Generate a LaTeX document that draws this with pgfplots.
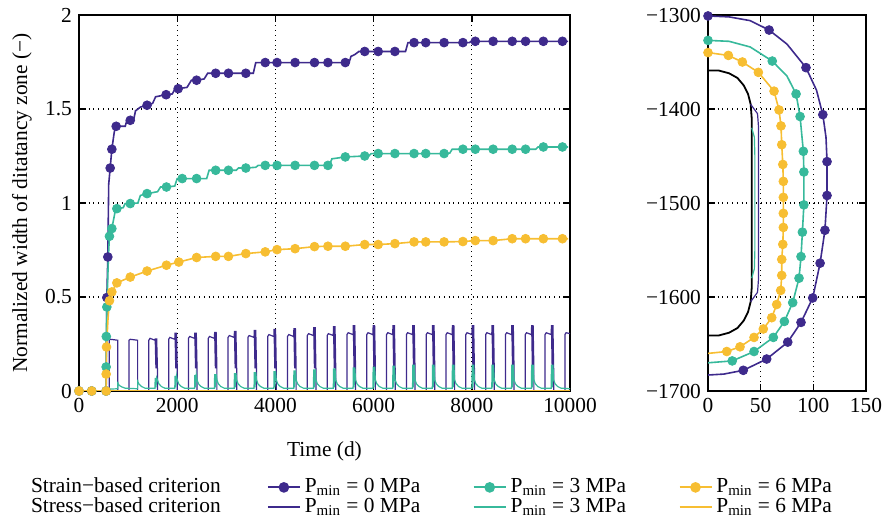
\documentclass[border=0pt]{standalone}
\usepackage{fontspec}
\setmainfont{Liberation Serif}
\usepackage{pgfplots}
\pgfplotsset{compat=1.18}

\definecolor{cP}{RGB}{62,42,140}
\definecolor{cT}{RGB}{55,185,155}
\definecolor{cY}{RGB}{247,190,50}

\newcommand{\gpfont}{\fontsize{10.7}{12}\selectfont}

\pgfplotsset{
  gpframe/.style={
    scale only axis, height=188pt,
    tick align=inside, major tick length=3.5pt,
    grid=major,
    major grid style={black, dotted, line width=0.6pt},
    axis line style={line width=0.7pt},
    every tick/.style={black, line width=0.7pt},
    tick label style={font=\gpfont},
    label style={font=\gpfont},
    /pgf/number format/assume math mode=true,
    /pgf/number format/1000 sep={},
    scaled ticks=false,
  },
  sline/.style={line width=0.8pt, draw=#1},
  smark/.style={only marks, mark=*, mark size=2.2pt, draw=#1, fill=#1,
    mark options={solid, fill=#1, draw=#1}},
  stress/.style={line width=0.6pt, draw=#1},
}

\begin{document}
\begin{tikzpicture}
\path[use as bounding box] (-39.5pt,-66pt) rectangle (406.5pt,195.5pt);

% ---------------- width of the dilatancy zone over time ----------------
\begin{axis}[gpframe,
  at={(0pt,0pt)}, anchor=south west, width=245.5pt,
  xmin=0, xmax=10000, ymin=0, ymax=2,
  xtick={0,2000,4000,6000,8000,10000},
  ytick={0,0.5,1,1.5,2},
  xlabel={Time (d)},
  ylabel={Normalized width of ditatancy zone (−)},
  xlabel style={at={(axis description cs:0.5,-0.1596)}, anchor=center},
  ylabel style={at={(axis description cs:-0.1161,0.5)}, anchor=center},
  legend columns=4,
  legend cell align=left,
  legend style={at={(axis description cs:-0.1067,-0.2287)}, anchor=north west,
    draw=none, fill=none, inner xsep=0pt, inner ysep=0pt, column sep=0pt,
    font=\gpfont,
    nodes={inner xsep=2pt, inner ysep=0pt, text height=7.5pt, text depth=2.5pt, anchor=west}},
  legend image code/.code={\draw[mark repeat=2,mark phase=2,#1]
    plot coordinates {(0pt,0pt) (8pt,0pt) (16pt,0pt)};},
]
% stress-based criterion, Pmin = 0 MPa
\addplot[stress=cP, forget plot] coordinates {
(0,0) (615,0) (615,0.27) (640,0.275) (790,0.27) (790,0)
(1019,0) (1019,0.27) (1044,0.275) (1194,0.27) (1194,0)
(1422,0) (1422,0.27) (1447,0.28) (1547,0.27) (1552,0.28) (1567,0.12) (1582,0.28) (1597,0.12) (1597,0)
(1826,0) (1826,0.275) (1851,0.285) (1951,0.275) (1956,0.31) (1971,0.12) (1986,0.31) (2001,0.12) (2001,0)
(2229,0) (2229,0.28) (2254,0.29) (2354,0.28) (2359,0.31) (2374,0.12) (2389,0.31) (2404,0.12) (2404,0)
(2633,0) (2633,0.28) (2658,0.29) (2758,0.28) (2763,0.315) (2778,0.12) (2793,0.315) (2808,0.12) (2808,0)
(3036,0) (3036,0.285) (3061,0.295) (3161,0.285) (3166,0.32) (3181,0.12) (3196,0.32) (3211,0.12) (3211,0)
(3440,0) (3440,0.285) (3465,0.295) (3565,0.285) (3570,0.325) (3585,0.12) (3600,0.325) (3615,0.12) (3615,0)
(3843,0) (3843,0.29) (3868,0.30) (3968,0.29) (3973,0.33) (3988,0.12) (4003,0.33) (4018,0.12) (4018,0)
(4247,0) (4247,0.29) (4272,0.30) (4372,0.29) (4377,0.335) (4392,0.12) (4407,0.335) (4422,0.12) (4422,0)
(4650,0) (4650,0.295) (4675,0.305) (4775,0.295) (4780,0.34) (4795,0.12) (4810,0.34) (4825,0.12) (4825,0)
(5054,0) (5054,0.295) (5079,0.305) (5179,0.295) (5184,0.345) (5199,0.12) (5214,0.345) (5229,0.12) (5229,0)
(5457,0) (5457,0.30) (5482,0.31) (5582,0.30) (5587,0.35) (5602,0.12) (5617,0.35) (5632,0.12) (5632,0)
(5861,0) (5861,0.30) (5886,0.31) (5986,0.30) (5991,0.35) (6006,0.12) (6021,0.35) (6036,0.12) (6036,0)
(6264,0) (6264,0.30) (6289,0.31) (6389,0.30) (6394,0.35) (6409,0.12) (6424,0.35) (6439,0.12) (6439,0)
(6668,0) (6668,0.30) (6693,0.31) (6793,0.30) (6798,0.35) (6813,0.12) (6828,0.35) (6843,0.12) (6843,0)
(7071,0) (7071,0.30) (7096,0.31) (7196,0.30) (7201,0.35) (7216,0.12) (7231,0.35) (7246,0.12) (7246,0)
(7475,0) (7475,0.30) (7500,0.31) (7600,0.30) (7605,0.35) (7620,0.12) (7635,0.35) (7650,0.12) (7650,0)
(7878,0) (7878,0.30) (7903,0.31) (8003,0.30) (8008,0.35) (8023,0.12) (8038,0.35) (8053,0.12) (8053,0)
(8282,0) (8282,0.30) (8307,0.31) (8407,0.30) (8412,0.35) (8427,0.12) (8442,0.35) (8457,0.12) (8457,0)
(8685,0) (8685,0.30) (8710,0.31) (8810,0.30) (8815,0.35) (8830,0.12) (8845,0.35) (8860,0.12) (8860,0)
(9089,0) (9089,0.30) (9114,0.31) (9214,0.30) (9219,0.35) (9234,0.12) (9249,0.35) (9264,0.12) (9264,0)
(9492,0) (9492,0.30) (9517,0.31) (9617,0.30) (9622,0.35) (9637,0.12) (9652,0.35) (9667,0.12) (9667,0)
(9896,0) (9896,0.30) (9921,0.31) (10000,0.305)
};
% stress-based criterion, Pmin = 3 MPa
\addplot[stress=cT, forget plot] coordinates {
(0,0) (615,0) (615,0.01) (790,0.012) (790,0.05) (794,0.04) (820,0.03) (870,0.022) (940,0.015)
(1194,0.012) (1194,0.06) (1198,0.05) (1224,0.036) (1274,0.024) (1344,0.015)
(1547,0.015) (1552,0.07) (1567,0.02) (1582,0.07) (1597,0.06) (1627,0.038) (1677,0.024) (1747,0.015)
(1951,0.015) (1956,0.08) (1971,0.02) (1986,0.08) (2001,0.06) (2031,0.038) (2081,0.024) (2151,0.015)
(2354,0.015) (2359,0.085) (2374,0.02) (2389,0.085) (2404,0.06) (2434,0.038) (2484,0.024) (2554,0.015)
(2758,0.015) (2763,0.09) (2778,0.02) (2793,0.09) (2808,0.06) (2838,0.038) (2888,0.024) (2958,0.015)
(3161,0.015) (3166,0.095) (3181,0.02) (3196,0.095) (3211,0.06) (3241,0.038) (3291,0.024) (3361,0.015)
(3565,0.015) (3570,0.10) (3585,0.02) (3600,0.10) (3615,0.06) (3645,0.038) (3695,0.024) (3765,0.015)
(3968,0.015) (3973,0.105) (3988,0.02) (4003,0.105) (4018,0.06) (4048,0.038) (4098,0.024) (4168,0.015)
(4372,0.015) (4377,0.11) (4392,0.02) (4407,0.11) (4422,0.06) (4452,0.038) (4502,0.024) (4572,0.015)
(4775,0.015) (4780,0.115) (4795,0.02) (4810,0.115) (4825,0.06) (4855,0.038) (4905,0.024) (4975,0.015)
(5179,0.015) (5184,0.12) (5199,0.02) (5214,0.12) (5229,0.06) (5259,0.038) (5309,0.024) (5379,0.015)
(5582,0.015) (5587,0.125) (5602,0.02) (5617,0.125) (5632,0.06) (5662,0.038) (5712,0.024) (5782,0.015)
(5986,0.015) (5991,0.13) (6006,0.02) (6021,0.13) (6036,0.06) (6066,0.038) (6116,0.024) (6186,0.015)
(6389,0.015) (6394,0.135) (6409,0.02) (6424,0.135) (6439,0.06) (6469,0.038) (6519,0.024) (6589,0.015)
(6793,0.015) (6798,0.14) (6813,0.02) (6828,0.14) (6843,0.06) (6873,0.038) (6923,0.024) (6993,0.015)
(7196,0.015) (7201,0.14) (7216,0.02) (7231,0.14) (7246,0.06) (7276,0.038) (7326,0.024) (7396,0.015)
(7600,0.015) (7605,0.14) (7620,0.02) (7635,0.14) (7650,0.06) (7680,0.038) (7730,0.024) (7800,0.015)
(8003,0.015) (8008,0.14) (8023,0.02) (8038,0.14) (8053,0.06) (8083,0.038) (8133,0.024) (8203,0.015)
(8407,0.015) (8412,0.14) (8427,0.02) (8442,0.14) (8457,0.06) (8487,0.038) (8537,0.024) (8607,0.015)
(8810,0.015) (8815,0.14) (8830,0.02) (8845,0.14) (8860,0.06) (8890,0.038) (8940,0.024) (9010,0.015)
(9214,0.015) (9219,0.14) (9234,0.02) (9249,0.14) (9264,0.06) (9294,0.038) (9344,0.024) (9414,0.015)
(9617,0.015) (9622,0.14) (9637,0.02) (9652,0.14) (9667,0.06) (9697,0.038) (9747,0.024) (9817,0.015)
(10000,0.012)
};
% stress-based criterion, Pmin = 6 MPa
\addplot[stress=cY, forget plot] coordinates {(0,0) (10000,0)};

% strain-based criterion, Pmin = 0 MPa
\addplot[sline=cP, forget plot] coordinates {
(0,0) (553,0) (567,0.497) (587,0.713) (605,1.1) (635,1.186) (669,1.286) (720,1.38)
(757,1.408) (942,1.408) (975,1.44) (1044,1.44) (1120,1.45) (1150,1.49) (1250,1.51)
(1386,1.52) (1500,1.53) (1560,1.565) (1774,1.576) (1900,1.58) (1950,1.605) (2020,1.608)
(2200,1.615) (2290,1.653) (2395,1.653) (2550,1.66) (2620,1.69) (3550,1.69) (3600,1.747)
(5500,1.747) (5540,1.78) (5620,1.79) (5700,1.806) (6650,1.806) (6700,1.853) (7950,1.853)
(7990,1.86) (9960,1.86)
};
\addplot[smark=cP, forget plot] coordinates {
(0,0) (259,0) (553,0) (567,0.497) (587,0.713) (635,1.186) (669,1.286) (757,1.408)
(1044,1.44) (1386,1.52) (1774,1.576) (2020,1.608) (2395,1.653) (2784,1.69) (3044,1.69)
(3398,1.69) (3793,1.747) (4033,1.747) (4401,1.747) (4796,1.747) (5070,1.747) (5424,1.747)
(5819,1.806) (6093,1.806) (6434,1.806) (6824,1.853) (7062,1.853) (7436,1.853) (7819,1.853)
(8071,1.86) (8434,1.86) (8823,1.86) (9095,1.86) (9457,1.86) (9846,1.86)
};
% strain-based criterion, Pmin = 3 MPa
\addplot[sline=cT, forget plot] coordinates {
(0,0) (553,0) (553,0.128) (556,0.29) (567,0.447) (600,0.72) (620,0.823) (669,0.864)
(740,0.96) (771,0.97) (900,0.975) (940,0.997) (1044,0.997) (1200,1.0) (1250,1.04)
(1386,1.05) (1600,1.06) (1660,1.085) (1781,1.085) (1950,1.09) (2000,1.13) (2600,1.13)
(2650,1.174) (3200,1.174) (3250,1.186) (3398,1.186) (3600,1.19) (3650,1.2) (5100,1.2)
(5150,1.235) (5424,1.245) (5819,1.25) (5900,1.25) (5950,1.263) (7436,1.263) (7550,1.265)
(7600,1.286) (9300,1.286) (9350,1.298) (9960,1.298)
};
\addplot[smark=cT, forget plot] coordinates {
(0,0) (259,0) (553,0) (553,0.128) (556,0.29) (567,0.447) (620,0.823) (669,0.864)
(771,0.97) (1044,0.997) (1386,1.05) (1781,1.085) (2102,1.13) (2395,1.13) (2784,1.174)
(3044,1.174) (3398,1.186) (3793,1.2) (4033,1.2) (4401,1.2) (4796,1.2) (5070,1.2)
(5424,1.245) (5819,1.25) (6093,1.263) (6434,1.263) (6824,1.263) (7062,1.263) (7436,1.263)
(7819,1.286) (8071,1.286) (8434,1.286) (8823,1.286) (9095,1.286) (9457,1.298) (9846,1.298)
};
% strain-based criterion, Pmin = 6 MPa
\addplot[sline=cY, forget plot] coordinates {
(0,0) (553,0) (553,0.09) (560,0.234) (590,0.38) (620,0.48) (669,0.527) (771,0.575)
(1044,0.606) (1386,0.638) (1781,0.669) (2032,0.686) (2395,0.71) (2784,0.716) (3044,0.716)
(3398,0.731) (3793,0.74) (4033,0.752) (4401,0.757) (4796,0.768) (5070,0.77) (5424,0.77)
(5819,0.779) (6093,0.779) (6434,0.784) (6824,0.793) (7062,0.793) (7436,0.793) (7819,0.795)
(8071,0.80) (8434,0.80) (8823,0.81) (9095,0.81) (9457,0.81) (9846,0.81) (9960,0.81)
};
\addplot[smark=cY, forget plot] coordinates {
(0,0) (259,0) (553,0) (553,0.09) (560,0.234) (620,0.48) (669,0.527) (771,0.575)
(1044,0.606) (1386,0.638) (1781,0.669) (2032,0.686) (2395,0.71) (2784,0.716) (3044,0.716)
(3398,0.731) (3793,0.74) (4033,0.752) (4401,0.757) (4796,0.768) (5070,0.77) (5424,0.77)
(5819,0.779) (6093,0.779) (6434,0.784) (6824,0.793) (7062,0.793) (7436,0.793) (7819,0.795)
(8071,0.80) (8434,0.80) (8823,0.81) (9095,0.81) (9457,0.81) (9846,0.81)
};

% legend: one row per criterion
\addlegendimage{empty legend}
\addlegendentry{\makebox[116pt][l]{Strain−based criterion}}
\addlegendimage{line width=0.9pt, draw=cP, mark=*, mark size=2.2pt, mark options={solid, fill=cP, draw=cP}}
\addlegendentry{\makebox[82pt][l]{P\textsubscript{min} = 0 MPa}}
\addlegendimage{line width=0.9pt, draw=cT, mark=*, mark size=2.2pt, mark options={solid, fill=cT, draw=cT}}
\addlegendentry{\makebox[82pt][l]{P\textsubscript{min} = 3 MPa}}
\addlegendimage{line width=0.9pt, draw=cY, mark=*, mark size=2.2pt, mark options={solid, fill=cY, draw=cY}}
\addlegendentry{\makebox[82pt][l]{P\textsubscript{min} = 6 MPa}}
\addlegendimage{empty legend}
\addlegendentry{\makebox[116pt][l]{Stress−based criterion}}
\addlegendimage{line width=0.9pt, draw=cP}
\addlegendentry{\makebox[82pt][l]{P\textsubscript{min} = 0 MPa}}
\addlegendimage{line width=0.9pt, draw=cT}
\addlegendentry{\makebox[82pt][l]{P\textsubscript{min} = 3 MPa}}
\addlegendimage{line width=0.9pt, draw=cY}
\addlegendentry{\makebox[82pt][l]{P\textsubscript{min} = 6 MPa}}
\end{axis}

% ---------------- extent of the dilatancy zone around the cavern ----------------
\begin{axis}[gpframe,
  at={(314.5pt,0pt)}, anchor=south west, width=79pt,
  xmin=0, xmax=150, ymin=-1700, ymax=-1300,
  xtick={0,50,100,150},
  ytick={-1700,-1600,-1500,-1400,-1300},
  yticklabels={−1700,−1600,−1500,−1400,−1300},
]
% cavern contour
\addplot[black, line width=0.9pt] coordinates {
(0,-1359) (10,-1359) (20,-1362) (28,-1367) (34,-1375) (38,-1384) (40.5,-1395) (41.5,-1410)
(41.5,-1590) (40.5,-1605) (38,-1616) (34,-1625) (28,-1633) (20,-1638) (10,-1641) (0,-1641)
};
% stress-based criterion
\addplot[stress=cP] coordinates {
(40.5,-1395) (47,-1405) (48,-1420) (48,-1580) (47,-1595) (40.5,-1605)
};
\addplot[stress=cT] coordinates {
(41.5,-1420) (44,-1430) (44.5,-1450) (44.5,-1550) (44,-1570) (41.5,-1580)
};
% strain-based criterion, Pmin = 0 MPa
\addplot[sline=cP] coordinates {
(0,-1301) (20,-1302) (40,-1306) (58,-1316) (75,-1331) (93,-1356) (103,-1380) (109,-1406)
(112,-1430) (113,-1456) (113,-1492) (111,-1529) (106.4,-1564) (99.4,-1601) (88.3,-1627)
(75.7,-1648) (55.7,-1666) (33.5,-1678) (15,-1682) (0,-1683)
};
\addplot[smark=cP] coordinates {
(0,-1301) (58,-1316) (93,-1356) (109,-1406) (113,-1456) (113,-1492) (111,-1529)
(106.4,-1564) (99.4,-1601) (88.3,-1627) (75.7,-1648) (55.7,-1666) (33.5,-1678)
};
% strain-based criterion, Pmin = 3 MPa
\addplot[sline=cT] coordinates {
(0,-1327) (20,-1328) (40,-1334) (61,-1349) (75,-1365) (83.6,-1384) (87.4,-1408)
(90.5,-1445) (91,-1467) (91,-1502) (89.6,-1531) (88.3,-1557) (86.4,-1580) (80.4,-1606)
(72.5,-1626) (62,-1643) (43.7,-1658) (23,-1668) (0,-1670)
};
\addplot[smark=cT] coordinates {
(0,-1327) (61,-1349) (83.6,-1384) (87.4,-1408) (90.5,-1445) (91,-1467) (91,-1502)
(89.6,-1531) (88.3,-1557) (86.4,-1580) (80.4,-1606) (72.5,-1626) (62,-1643) (43.7,-1658)
(23,-1668)
};
% strain-based criterion, Pmin = 6 MPa
\addplot[sline=cY] coordinates {
(0,-1340) (19.3,-1343) (32.6,-1350) (47.8,-1361) (62.7,-1381) (67.4,-1401) (69.3,-1418)
(70,-1438) (71,-1459) (71.5,-1477) (71.5,-1494) (71.5,-1511) (71.5,-1526) (71,-1544)
(70,-1560) (70,-1577) (69,-1593) (65.2,-1608) (60.5,-1622) (52.5,-1634) (43.7,-1643)
(30.4,-1653) (17.8,-1658) (0,-1660)
};
\addplot[smark=cY] coordinates {
(0,-1340) (19.3,-1343) (32.6,-1350) (47.8,-1361) (62.7,-1381) (67.4,-1401) (69.3,-1418)
(70,-1438) (71,-1459) (71.5,-1477) (71.5,-1494) (71.5,-1511) (71.5,-1526) (71,-1544)
(70,-1560) (70,-1577) (69,-1593) (65.2,-1608) (60.5,-1622) (52.5,-1634) (43.7,-1643)
(30.4,-1653) (17.8,-1658)
};
\end{axis}
\end{tikzpicture}
\end{document}
